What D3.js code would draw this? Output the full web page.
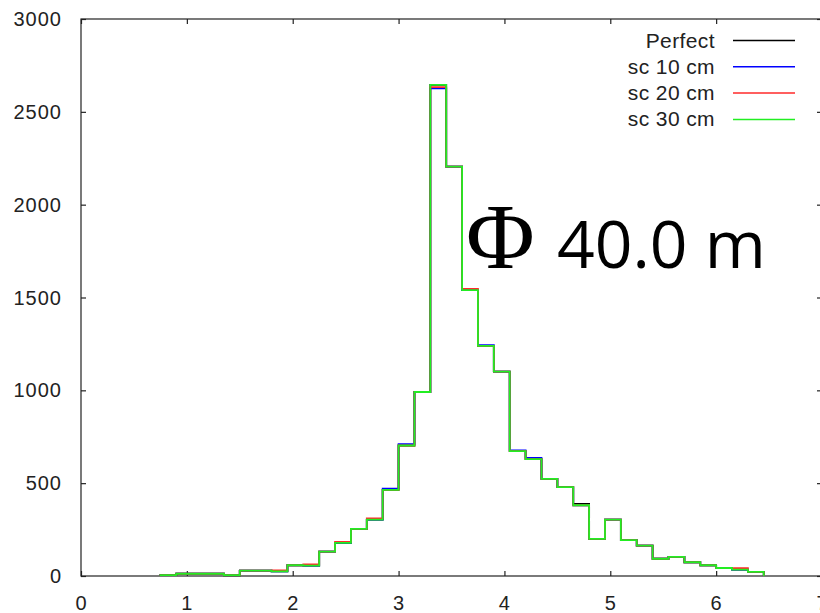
<!DOCTYPE html>
<html>
<head>
<meta charset="utf-8">
<script src="https://cdn.jsdelivr.net/npm/d3@7"></script>
<style>
  body { margin: 0; background: #fff; }
  svg { display: block; }
  text { font-family: "Liberation Sans", Arial, sans-serif; fill: #222; }
</style>
</head>
<body>
<svg width="820" height="613"></svg>
<script>
// bin edges (left edges of each bin, plus the closing edge)
const binEdges = [0.75, 0.90, 1.05, 1.20, 1.35, 1.50, 1.65, 1.80, 1.95, 2.10,
  2.25, 2.40, 2.55, 2.70, 2.85, 3.00, 3.15, 3.30, 3.45, 3.60,
  3.75, 3.90, 4.05, 4.20, 4.35, 4.50, 4.65, 4.80, 4.95, 5.10,
  5.25, 5.40, 5.55, 5.70, 5.85, 6.00, 6.15, 6.30, 6.45];

const perfect = [5, 12, 12, 12, 4, 29, 29, 25, 58, 56,
  131, 178, 254, 304, 464, 703, 991, 2645, 2205, 1540,
  1239, 1101, 673, 630, 523, 479, 388, 200, 304, 193,
  164, 93, 103, 74, 58, 43, 34, 22];

const sc10 = [5, 12, 12, 12, 4, 29, 29, 25, 58, 56,
  131, 178, 254, 304, 470, 710, 991, 2626, 2205, 1540,
  1244, 1101, 677, 636, 523, 479, 381, 200, 304, 193,
  164, 93, 103, 74, 58, 43, 34, 22];

const sc20 = [5, 12, 12, 12, 4, 29, 29, 30, 58, 62,
  131, 184, 254, 310, 464, 703, 991, 2633, 2205, 1546,
  1239, 1101, 673, 630, 523, 479, 381, 200, 304, 193,
  164, 93, 103, 74, 58, 43, 42, 22];

const sc30 = [5, 12, 12, 12, 4, 29, 29, 25, 58, 56,
  131, 178, 254, 304, 464, 703, 991, 2645, 2205, 1540,
  1239, 1101, 673, 630, 523, 479, 381, 200, 304, 193,
  164, 93, 103, 74, 58, 43, 34, 22];

const seriesNames = ['Perfect', 'sc 10 cm', 'sc 20 cm', 'sc 30 cm'];
const seriesColors = ['#000000', '#0000ff', '#ff2a2a', '#22ee22'];
const seriesValues = [perfect, sc10, sc20, sc30];

const xTicks = [0, 1, 2, 3, 4, 5, 6, 7];
const yTicks = [0, 500, 1000, 1500, 2000, 2500, 3000];

const svg = d3.select('svg');
const plotLeft = 81, plotRight = 822, plotTop = 19, plotBottom = 576;

const x = d3.scaleLinear().domain([0, 7]).range([plotLeft, plotRight]);
const y = d3.scaleLinear().domain([0, 3000]).range([plotBottom, plotTop]);

// inward ticks on all four sides
svg.append('g')
  .attr('transform', `translate(0,${plotBottom})`)
  .call(d3.axisBottom(x).tickValues(xTicks).tickSize(-5).tickFormat(''));
svg.append('g')
  .attr('transform', `translate(0,${plotTop})`)
  .call(d3.axisTop(x).tickValues(xTicks).tickSize(-5).tickFormat(''));
svg.append('g')
  .attr('transform', `translate(${plotLeft},0)`)
  .call(d3.axisLeft(y).tickValues(yTicks).tickSize(-5).tickFormat(''));
svg.append('g')
  .attr('transform', `translate(${plotRight},0)`)
  .call(d3.axisRight(y).tickValues(yTicks).tickSize(-5).tickFormat(''));
svg.selectAll('.domain').remove();
svg.selectAll('.tick line').attr('stroke', '#222').attr('stroke-width', 1.2);

// frame
svg.append('rect')
  .attr('x', plotLeft).attr('y', plotTop)
  .attr('width', plotRight - plotLeft).attr('height', plotBottom - plotTop)
  .attr('fill', 'none').attr('stroke', '#222').attr('stroke-width', 1.2);

// tick labels
svg.append('g').selectAll('text')
  .data(xTicks)
  .join('text')
  .attr('x', d => x(d))
  .attr('y', 610)
  .attr('text-anchor', 'middle')
  .attr('font-size', 20)
  .text(d => d);

svg.append('g').selectAll('text')
  .data(yTicks)
  .join('text')
  .attr('x', 62)
  .attr('y', d => y(d) + 7)
  .attr('text-anchor', 'end')
  .attr('font-size', 20)
  .attr('letter-spacing', 1)
  .text(d => d);

// histogram outlines
const line = d3.line()
  .x(d => x(d[0]))
  .y(d => y(d[1]))
  .curve(d3.curveStepAfter);

function outline(values) {
  const pts = [[binEdges[0], 0]];
  values.forEach((v, i) => pts.push([binEdges[i], v]));
  pts.push([binEdges[binEdges.length - 1], 0]);
  return pts;
}

svg.append('g').selectAll('path')
  .data(seriesValues)
  .join('path')
  .attr('d', d => line(outline(d)))
  .attr('fill', 'none')
  .attr('stroke', (d, i) => seriesColors[i])
  .attr('stroke-width', 1.8);

// legend
const legend = svg.append('g').selectAll('g')
  .data(seriesNames)
  .join('g')
  .attr('transform', (d, i) => `translate(0,${40.5 + i * 26.3})`);
legend.append('text')
  .attr('x', 715)
  .attr('y', 7)
  .attr('text-anchor', 'end')
  .attr('font-size', 21)
  .attr('letter-spacing', 0.4)
  .text(d => d);
legend.append('line')
  .attr('x1', 733).attr('x2', 795)
  .attr('stroke', (d, i) => seriesColors[i])
  .attr('stroke-width', 1.5);

// annotation
const note = svg.append('text').attr('y', 268);
note.append('tspan')
  .attr('x', 466)
  .style('font-family', '"Liberation Serif", "Times New Roman", serif')
  .attr('font-size', 94)
  .attr('fill', '#000')
  .text('\u03A6');
note.append('tspan')
  .attr('x', 557)
  .style('font-family', '"Open Sans", "Noto Sans", sans-serif')
  .attr('font-size', 66)
  .attr('fill', '#000')
  .text('40.0 m');
</script>
</body>
</html>
